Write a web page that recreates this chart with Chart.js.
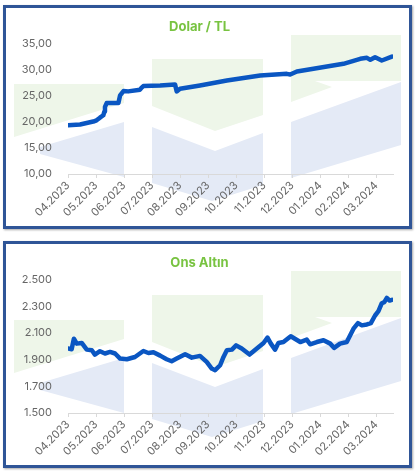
<!DOCTYPE html>
<html lang="tr">
<head>
    <meta charset="UTF-8">
    <title>Dolar / TL - Ons Altın</title>
    <style>
        body {
            margin: 0;
            background-color: #ffffff;
            width: 418px;
            height: 473px;
            position: relative;
            overflow: hidden;
        }
        .chart-box {
            position: absolute;
            left: 3px;
            width: 403px;
            height: 218px;
            border: 3px solid #2f5597;
            box-shadow: 1px 1px 2px rgba(0, 0, 0, 0.35);
            background-color: #ffffff;
        }
        #box-dolar { top: 5px; }
        #box-altin { top: 241px; height: 221px; }
        .chart-box canvas {
            display: block;
        }
    </style>
</head>
<body>
    <div class="chart-box" id="box-dolar"><canvas id="dolarChart"></canvas></div>
    <div class="chart-box" id="box-altin"><canvas id="altinChart"></canvas></div>

    <script src="https://cdn.jsdelivr.net/npm/chart.js"></script>
    <script>
        // ay etiketleri (x ekseni, 0 = 04.2023)
        const months = ['04.2023', '05.2023', '06.2023', '07.2023', '08.2023', '09.2023',
                        '10.2023', '11.2023', '12.2023', '01.2024', '02.2024', '03.2024'];

        // Dolar / TL (x: ay cinsinden konum)
        const dolarX = [0, 0.43, 0.9, 1.02, 1.14, 1.26, 1.3, 1.32, 1.38, 1.8, 1.86, 1.98, 2.15, 2.57, 2.62, 2.69,
                        3.29, 3.82, 3.88, 4.0, 4.71, 5.67, 6.86, 7.81, 7.93, 8.17, 8.76, 9.83, 10.43,
                        10.67, 10.79, 10.96, 11.2, 11.56];
        const dolarY = [19.35, 19.48, 20.06, 20.3, 20.8, 21.26, 22.0, 22.85, 23.6, 23.6, 25.08, 25.9, 25.84, 26.16, 26.5, 26.85,
                        26.98, 27.18, 25.84, 26.35, 26.98, 27.94, 28.9, 29.2, 29.08, 29.66, 30.17, 31.13, 32.08,
                        32.27, 31.89, 32.39, 31.76, 32.5];
        const dolarTicks = [10, 15, 20, 25, 30, 35];

        // Ons Altın
        const altinX = [0, 0.13, 0.21, 0.31, 0.49, 0.67, 0.85, 0.96, 1.14, 1.32, 1.5, 1.68, 1.86, 2.1, 2.39,
                        2.69, 2.87, 3.05, 3.29, 3.52, 3.7, 3.88, 4.18, 4.42, 4.71, 4.95, 5.13, 5.25, 5.43,
                        5.55, 5.67, 5.85, 6.0, 6.2, 6.48, 6.74, 6.98, 7.12, 7.24, 7.39, 7.51, 7.69, 7.95,
                        8.29, 8.52, 8.64, 8.88, 9.12, 9.36, 9.5, 9.71, 9.95, 10.19, 10.35, 10.49, 10.67,
                        10.81, 10.96, 11.08, 11.2, 11.29, 11.38, 11.48, 11.56];
        const altinY = [1983, 1978, 2057, 2020, 2025, 1975, 1970, 1938, 1963, 1946, 1958, 1946, 1908, 1903, 1920,
                        1965, 1950, 1955, 1930, 1903, 1888, 1908, 1940, 1915, 1928, 1883, 1833, 1821, 1858,
                        1920, 1970, 1975, 2007, 1983, 1938, 1983, 2025, 2065, 2020, 1975, 2025, 2032, 2075,
                        2032, 2050, 2015, 2032, 2045, 2020, 1988, 2020, 2032, 2132, 2174, 2157, 2164,
                        2174, 2231, 2263, 2323, 2331, 2363, 2343, 2348];
        const altinTicks = [1500, 1700, 1900, 2100, 2300, 2500];

        // arka plandaki logo (kanvas pikseli)
        const logoShapes = [
            { color: '#eef6e9', pts: [[8, 76], [118, 76], [118, 95], [8, 129]] },
            { color: '#e4eaf6', pts: [[34, 139], [118, 114], [118, 169], [34, 146]] },
            { color: '#eef6e9', pts: [[146, 51], [257, 51], [257, 107], [209, 123], [146, 98]] },
            { color: '#e4eaf6', pts: [[146, 119], [209, 143], [257, 125], [257, 177], [206, 193], [146, 175]] },
            { color: '#eef6e9', pts: [[285, 27], [395, 27], [395, 73], [309, 73], [326, 79], [285, 94]] },
            { color: '#e4eaf6', pts: [[285, 114], [395, 74], [395, 137], [285, 170]] }
        ];

        const logoPlugin = {
            id: 'logo',
            beforeDraw(chart) {
                const c = chart.ctx;
                c.save();
                logoShapes.forEach(s => {
                    c.beginPath();
                    s.pts.forEach((p, i) => i ? c.lineTo(p[0], p[1]) : c.moveTo(p[0], p[1]));
                    c.closePath();
                    c.fillStyle = s.color;
                    c.fill();
                });
                c.restore();
            }
        };

        const FONT = 'Inter, "Open Sans", sans-serif';

        function makeChart(id, title, xs, ys, yTicks, fmt) {
            const points = xs.map((x, i) => ({ x: x, y: ys[i] }));
            return new Chart(document.getElementById(id), {
                type: 'line',
                data: {
                    datasets: [{
                        data: points,
                        borderColor: '#0a56c2',
                        borderWidth: 4.5,
                        pointRadius: 0,
                        tension: 0,
                        borderJoinStyle: 'round',
                        borderCapStyle: 'round'
                    }]
                },
                options: {
                    responsive: true,
                    maintainAspectRatio: false,
                    animation: false,
                    layout: { padding: { left: 0, right: 16, top: 0, bottom: 0 } },
                    plugins: {
                        legend: { display: false },
                        tooltip: { enabled: false },
                        title: {
                            display: true,
                            text: title,
                            color: '#78c341',
                            font: { family: FONT, size: 13, weight: 'bold' },
                            padding: { top: 11, bottom: 9 }
                        }
                    },
                    scales: {
                        x: {
                            type: 'linear',
                            min: 0,
                            max: 11.6,
                            afterBuildTicks: scale => {
                                scale.ticks = months.map((m, i) => ({ value: i }));
                            },
                            afterFit: scale => { scale.height = 52; },
                            grid: {
                                drawOnChartArea: false,
                                drawTicks: true,
                                tickLength: 4,
                                color: '#d9d9d9'
                            },
                            border: { display: true, color: '#d9d9d9', width: 1 },
                            ticks: {
                                minRotation: 45,
                                maxRotation: 45,
                                autoSkip: false,
                                padding: 1,
                                color: '#666666',
                                font: { family: FONT, size: 11 },
                                callback: (v, i) => months[i]
                            }
                        },
                        y: {
                            min: yTicks[0],
                            max: yTicks[yTicks.length - 1],
                            afterBuildTicks: scale => {
                                scale.ticks = yTicks.map(v => ({ value: v }));
                            },
                            afterFit: scale => { scale.width = 62; },
                            grid: { display: false },
                            border: { display: false },
                            ticks: {
                                padding: 8,
                                color: '#666666',
                                font: { family: FONT, size: 11 },
                                callback: v => fmt(v)
                            }
                        }
                    }
                },
                plugins: [logoPlugin]
            });
        }

        makeChart('dolarChart', 'Dolar / TL', dolarX, dolarY, dolarTicks,
                  v => v.toFixed(2).replace('.', ','));
        makeChart('altinChart', 'Ons Altın', altinX, altinY, altinTicks,
                  v => String(v).replace(/\B(?=(\d{3})+(?!\d))/g, '.'));
    </script>
</body>
</html>
